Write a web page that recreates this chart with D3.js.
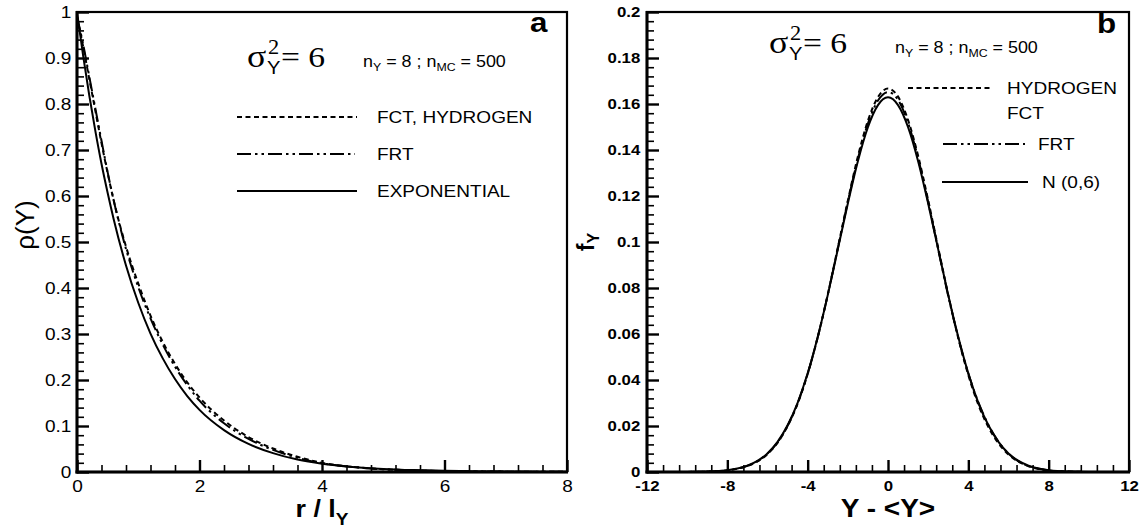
<!DOCTYPE html>
<html>
<head>
<meta charset="utf-8">
<script src="https://cdn.jsdelivr.net/npm/d3@7"></script>
<style>
  body { margin: 0; background: #fff; }
  svg { display: block; }
</style>
</head>
<body>
<svg id="chart" width="1143" height="531"></svg>
<script>
// ---- Panel a: correlation function rho(Y) versus normalised lag r / l_Y ----
const lag = [0, 0.1, 0.2, 0.3, 0.4, 0.5, 0.6, 0.8, 1.0, 1.2, 1.4, 1.6, 1.8, 2.0, 2.4, 2.8, 3.2, 3.6, 4.0, 4.5, 5.0, 5.5, 6.0, 7.0, 8.0];
const rhoFctHydrogen = [0.99, 0.925, 0.855, 0.785, 0.715, 0.65, 0.59, 0.49, 0.41, 0.34, 0.283, 0.235, 0.195, 0.162, 0.112, 0.076, 0.051, 0.033, 0.020, 0.011, 0.006, 0.0035, 0.002, 0.0008, 0.0003];
const rhoFrt = [0.99, 0.93, 0.86, 0.79, 0.72, 0.652, 0.59, 0.485, 0.402, 0.334, 0.277, 0.229, 0.189, 0.155, 0.106, 0.072, 0.048, 0.031, 0.019, 0.011, 0.006, 0.0035, 0.002, 0.0008, 0.0003];
const rhoExponential = [1, 0.905, 0.819, 0.741, 0.670, 0.607, 0.549, 0.449, 0.368, 0.301, 0.247, 0.202, 0.165, 0.135, 0.091, 0.061, 0.041, 0.027, 0.018, 0.011, 0.0067, 0.0041, 0.0025, 0.0009, 0.0003];
const lagTicks = [0, 2, 4, 6, 8];
const lagMinor = [0.4, 0.8, 1.2, 1.6, 2.4, 2.8, 3.2, 3.6, 4.4, 4.8, 5.2, 5.6, 6.4, 6.8, 7.2, 7.6];
const rhoTicks = [0, 0.1, 0.2, 0.3, 0.4, 0.5, 0.6, 0.7, 0.8, 0.9, 1];
const rhoTickLabels = ["0", "0.1", "0.2", "0.3", "0.4", "0.5", "0.6", "0.7", "0.8", "0.9", "1"];

// ---- Panel b: probability density f_Y versus Y - <Y> ----
const dev = [-12, -11, -10, -9, -8, -7.5, -7, -6.5, -6, -5.5, -5, -4.5, -4, -3.5, -3, -2.5, -2, -1.5, -1, -0.5, 0,
             0.5, 1, 1.5, 2, 2.5, 3, 3.5, 4, 4.5, 5, 5.5, 6, 6.5, 7, 7.5, 8, 9, 10, 11, 12];
const pdfHydrogenFct = [0, 0.00001, 0.00004, 0.00018, 0.00075, 0.0014, 0.0026, 0.0046, 0.0078, 0.0127, 0.0199, 0.0297, 0.0426, 0.0586, 0.0772, 0.0975, 0.1180, 0.1372, 0.1527, 0.1630, 0.1667,
                        0.1632, 0.1530, 0.1375, 0.1182, 0.0975, 0.0770, 0.0582, 0.0421, 0.0292, 0.0195, 0.0125, 0.0076, 0.0045, 0.0025, 0.0013, 0.0007, 0.00016, 0.00004, 0.00001, 0];
const pdfFrt = [0, 0.00001, 0.00004, 0.00019, 0.00078, 0.0015, 0.0027, 0.0047, 0.0080, 0.0129, 0.0201, 0.0299, 0.0427, 0.0585, 0.0770, 0.0972, 0.1175, 0.1362, 0.1515, 0.1615, 0.1652,
                0.1618, 0.1518, 0.1364, 0.1174, 0.0968, 0.0765, 0.0583, 0.0428, 0.0303, 0.0205, 0.0132, 0.0080, 0.0046, 0.0026, 0.0014, 0.0007, 0.00017, 0.00004, 0.00001, 0];
const pdfNormal = [0.0000007, 0.0000068, 0.000039, 0.00019, 0.00079, 0.0015, 0.00275, 0.00482, 0.0081, 0.0131, 0.0203, 0.0301, 0.0429, 0.0587, 0.0769, 0.0968, 0.1167, 0.1351, 0.1499, 0.1595, 0.1629,
                   0.1595, 0.1499, 0.1351, 0.1167, 0.0968, 0.0769, 0.0587, 0.0429, 0.0301, 0.0203, 0.0131, 0.0081, 0.00482, 0.00275, 0.0015, 0.00079, 0.00019, 0.000039, 0.0000068, 0.0000007];
const devTicks = [-12, -8, -4, 0, 4, 8, 12];
const devMinor = [-11.2, -10.4, -9.6, -8.8, -7.2, -6.4, -5.6, -4.8, -3.2, -2.4, -1.6, -0.8, 0.8, 1.6, 2.4, 3.2, 4.8, 5.6, 6.4, 7.2, 8.8, 9.6, 10.4, 11.2];
const pdfTicks = [0, 0.02, 0.04, 0.06, 0.08, 0.1, 0.12, 0.14, 0.16, 0.18, 0.2];
const pdfTickLabels = ["0", "0.02", "0.04", "0.06", "0.08", "0.1", "0.12", "0.14", "0.16", "0.18", "0.2"];

const svg = d3.select("#chart");
const SANS = "'Liberation Sans', Arial, Helvetica, sans-serif";
const SERIF = "'Liberation Serif', 'Times New Roman', serif";
const SX = 1.12;           // horizontal widening of the lettering
const DASHED = "5,3.5";
const DASH_DOT_DOT = "14,4,2.5,4,2.5,4";

function addText(g, x, y, parts, opt) {
  const t = g.append("text")
    .attr("transform", `translate(${x},${y}) scale(${opt.sx ?? SX},1)`)
    .attr("font-family", opt.family || SANS)
    .attr("font-size", opt.size)
    .attr("font-weight", opt.weight || "normal")
    .attr("text-anchor", opt.anchor || "start")
    .attr("fill", "#000");
  (Array.isArray(parts) ? parts : [[parts]]).forEach(p => {
    const ts = t.append("tspan").text(p[0]);
    if (p[1]) Object.entries(p[1]).forEach(([k, v]) => ts.attr(k, v));
  });
  return t;
}

function sigmaLabel(g, x, y) {
  addText(g, x, y, "σ", { family: SERIF, size: 32 });
  addText(g, x + 21, y - 13, "2", { family: SERIF, size: 20 });
  addText(g, x + 20, y + 7, "Y", { size: 18 });
  addText(g, x + 34, y, "= 6", { family: SERIF, size: 30 });
}

function runsLabel(g, x, y) {
  addText(g, x, y, [
    ["n"], ["Y", { "font-size": 11, dy: 4 }],
    [" = 8 ; n", { dy: -4 }], ["MC", { "font-size": 11, dy: 4 }],
    [" = 500", { dy: -4 }]
  ], { size: 16 });
}

function legendRow(g, x1, x2, y, dash, label, tx, ty) {
  g.append("line").attr("x1", x1).attr("x2", x2).attr("y1", y).attr("y2", y)
    .attr("stroke", "#000").attr("stroke-width", 2)
    .attr("stroke-dasharray", dash);
  if (label) addText(g, tx, ty, label, { size: 17 });
}

function panel(cfg) {
  const g = svg.append("g");
  const x = d3.scaleLinear().domain(cfg.xDomain).range([cfg.left, cfg.right]);
  const y = d3.scaleLinear().domain(cfg.yDomain).range([cfg.bottom, cfg.top]);

  const clipId = "clip-" + cfg.id;
  svg.append("clipPath").attr("id", clipId).append("rect")
    .attr("x", cfg.left).attr("y", cfg.top)
    .attr("width", cfg.right - cfg.left).attr("height", cfg.bottom - cfg.top);

  // curves
  const line = d3.line().x(d => x(d[0])).y(d => y(d[1])).curve(d3.curveMonotoneX);
  const curves = g.append("g").attr("clip-path", `url(#${clipId})`);
  cfg.series.forEach(s => {
    curves.append("path")
      .datum(cfg.xs.map((v, i) => [v, s.values[i]]))
      .attr("d", line)
      .attr("fill", "none").attr("stroke", "#000").attr("stroke-width", 2)
      .attr("stroke-dasharray", s.dash);
  });

  // frame
  g.append("rect").attr("x", cfg.left).attr("y", cfg.top)
    .attr("width", cfg.right - cfg.left).attr("height", cfg.bottom - cfg.top)
    .attr("fill", "none").attr("stroke", "#000").attr("stroke-width", 2.2);

  // minor ticks
  g.append("g").attr("transform", `translate(0,${cfg.bottom})`)
    .call(d3.axisBottom(x).tickValues(cfg.xMinor).tickSize(-7).tickFormat(""))
    .call(a => a.select(".domain").remove())
    .call(a => a.selectAll("line").attr("stroke-width", 1.6));
  g.append("g").attr("transform", `translate(${cfg.left},0)`)
    .call(d3.axisLeft(y).tickValues(cfg.yMinor).tickSize(-7).tickFormat(""))
    .call(a => a.select(".domain").remove())
    .call(a => a.selectAll("line").attr("stroke-width", 1.6));

  // major ticks and labels
  const xa = g.append("g").attr("transform", `translate(0,${cfg.bottom})`)
    .call(d3.axisBottom(x).tickValues(cfg.xTicks).tickSize(-12).tickPadding(8)
      .tickFormat((d, i) => cfg.xLabels[i]))
    .call(a => a.select(".domain").remove());
  const ya = g.append("g").attr("transform", `translate(${cfg.left},0)`)
    .call(d3.axisLeft(y).tickValues(cfg.yTicks).tickSize(-12).tickPadding(cfg.yPad)
      .tickFormat((d, i) => cfg.yLabels[i]))
    .call(a => a.select(".domain").remove());
  [xa, ya].forEach(a => {
    a.selectAll("line").attr("stroke-width", 2.4);
    a.selectAll("text")
      .attr("font-family", SANS).attr("font-size", cfg.tickSize)
      .attr("font-weight", cfg.tickWeight).attr("fill", "#000")
      .attr("transform", `scale(${SX},1)`);
  });

  // heavy left and bottom axis lines
  g.append("line").attr("x1", cfg.left).attr("x2", cfg.left).attr("y1", cfg.top - 1).attr("y2", cfg.bottom + 1.5)
    .attr("stroke", "#000").attr("stroke-width", 3);
  g.append("line").attr("x1", cfg.left - 1.5).attr("x2", cfg.right + 1).attr("y1", cfg.bottom).attr("y2", cfg.bottom)
    .attr("stroke", "#000").attr("stroke-width", 3);
  return g;
}

// ---------- panel a ----------
const ga = panel({
  id: "a", left: 77, right: 567, top: 12, bottom: 472,
  xDomain: [0, 8], yDomain: [0, 1],
  xs: lag,
  series: [
    { values: rhoExponential, dash: null },
    { values: rhoFrt, dash: DASH_DOT_DOT },
    { values: rhoFctHydrogen, dash: DASHED }
  ],
  xTicks: lagTicks, xLabels: lagTicks.map(String), xMinor: lagMinor,
  yTicks: rhoTicks, yLabels: rhoTickLabels,
  yMinor: d3.range(0, 50).map(i => i * 0.02).filter((v, i) => i % 5 !== 0),
  yPad: 5, tickSize: 17, tickWeight: "normal"
});

sigmaLabel(ga, 247, 67);
runsLabel(ga, 363, 67);
addText(ga, 530, 32, "a", { size: 28, weight: "bold" });
legendRow(ga, 237, 357, 117, DASHED, "FCT, HYDROGEN", 377, 123);
legendRow(ga, 237, 355, 154, DASH_DOT_DOT, "FRT", 377, 160);
legendRow(ga, 237, 357, 191, null, "EXPONENTIAL", 377, 197);

addText(ga, 322, 517, [["r / l"], ["Y", { "font-size": 17, dy: 8 }]],
  { size: 24, weight: "bold", anchor: "middle" });
ga.append("text")
  .attr("transform", "translate(34,225) rotate(-90)")
  .attr("text-anchor", "middle")
  .attr("font-family", SANS).attr("font-size", 26)
  .text("ρ(Y)");

// ---------- panel b ----------
const gb = panel({
  id: "b", left: 647, right: 1129, top: 12, bottom: 472,
  xDomain: [-12, 12], yDomain: [0, 0.2],
  xs: dev,
  series: [
    { values: pdfNormal, dash: null },
    { values: pdfFrt, dash: DASH_DOT_DOT },
    { values: pdfHydrogenFct, dash: DASHED }
  ],
  xTicks: devTicks, xLabels: devTicks.map(String), xMinor: devMinor,
  yTicks: pdfTicks, yLabels: pdfTickLabels,
  yMinor: d3.range(0, 50).map(i => i * 0.004).filter((v, i) => i % 5 !== 0),
  yPad: 6, tickSize: 15, tickWeight: "bold"
});

sigmaLabel(gb, 769, 53);
runsLabel(gb, 895, 53);
addText(gb, 1097, 33, "b", { size: 28, weight: "bold" });
legendRow(gb, 908, 993, 88, DASHED, "HYDROGEN", 1007, 94);
addText(gb, 1007, 119, "FCT", { size: 17 });
legendRow(gb, 943, 1025, 144, DASH_DOT_DOT, "FRT", 1038, 150);
legendRow(gb, 942, 1028, 182, null, "N (0,6)", 1042, 188);

addText(gb, 888, 517, "Y - <Y>", { size: 25, weight: "bold", anchor: "middle" });
gb.append("text")
  .attr("transform", "translate(594,242) rotate(-90)")
  .attr("text-anchor", "middle")
  .attr("font-family", SANS).attr("font-size", 23).attr("font-weight", "bold")
  .call(t => {
    t.append("tspan").text("f");
    t.append("tspan").attr("font-size", 16).attr("dy", 5).text("Y");
  });
</script>
</body>
</html>
